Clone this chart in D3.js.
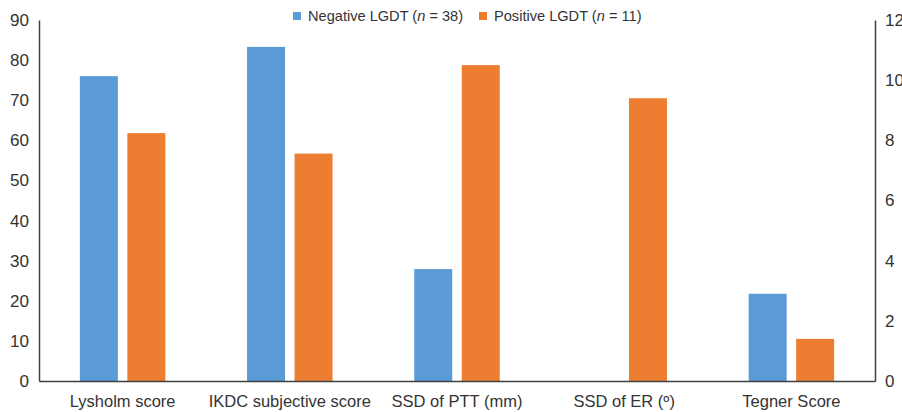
<!DOCTYPE html>
<html><head><meta charset="utf-8">
<script src="https://cdn.jsdelivr.net/npm/d3@7"></script>
<style>body{margin:0;background:#fff}svg{display:block}text{font-family:"Liberation Sans",Arial,sans-serif;fill:#333}</style>
</head><body>
<svg id="c" width="902" height="412"></svg>
<script>
const categories = ["Lysholm score","IKDC subjective score","SSD of PTT (mm)","SSD of ER (º)","Tegner Score"];
const seriesNames = ["Negative LGDT","Positive LGDT"];
const seriesN = [38, 11];
// axis each category is plotted against
const categoryAxis = ["left","left","right","right","right"];
const negativeValues = [76.0, 83.3, 3.72, null, 2.9];
const positiveValues = [61.8, 56.7, 10.5, 9.4, 1.4];
const leftTicks = [0,10,20,30,40,50,60,70,80,90];
const rightTicks = [0,2,4,6,8,10,12];
const colors = ["#5b9bd5","#ed7d31"];

const svg = d3.select("#c");
const m = {l:39, r:875, t:20, b:381};
const x = d3.scaleBand().domain(categories).range([m.l, m.r]).paddingInner(0).paddingOuter(0);
const xs = d3.scaleBand().domain([0,1]).range([0, x.bandwidth()]).paddingInner(0.2).paddingOuter(0.86);
const yL = d3.scaleLinear().domain([0,90]).range([m.b, m.t]);
const yR = d3.scaleLinear().domain([0,12]).range([m.b, m.t]);

const series = [negativeValues, positiveValues];
series.forEach((vals, si) => {
  svg.append("g").selectAll("rect").data(categories.map((c,i)=>({c, v:vals[i], ax:categoryAxis[i]})).filter(d=>d.v!=null))
    .join("rect")
    .attr("x", d => x(d.c) + xs(si))
    .attr("width", xs.bandwidth())
    .attr("y", d => (d.ax==="left"?yL:yR)(d.v))
    .attr("height", d => m.b - (d.ax==="left"?yL:yR)(d.v))
    .attr("fill", colors[si]);
});

const axisColor = "#404040";
const gl = svg.append("g").attr("transform",`translate(${m.l},0)`)
  .call(d3.axisLeft(yL).tickValues(leftTicks).tickSize(0).tickPadding(10));
const gr = svg.append("g").attr("transform",`translate(${m.r},0)`)
  .call(d3.axisRight(yR).tickValues(rightTicks).tickSize(0).tickPadding(10));
const gx = svg.append("g").attr("transform",`translate(0,${m.b})`)
  .call(d3.axisBottom(x).tickSize(0).tickPadding(14));
[gl,gr,gx].forEach(g=>{
  g.select(".domain").attr("stroke",axisColor).attr("stroke-width",1.5);
  g.selectAll("text").attr("font-family",'"Liberation Sans",Arial,sans-serif').attr("font-size",17).attr("fill","#333");
});
gx.selectAll("text").attr("font-size",16.5);

// legend
const legend = svg.append("g").attr("transform","translate(293,10)");
let lx = 0;
seriesNames.forEach((name, i) => {
  const g = legend.append("g").attr("transform",`translate(${lx},0)`);
  g.append("rect").attr("x",0).attr("y",2).attr("width",8).attr("height",8).attr("fill",colors[i]);
  const t = g.append("text").attr("x",15).attr("y",11).attr("font-size",14.6);
  t.append("tspan").text(name + " (");
  t.append("tspan").attr("font-style","italic").text("n");
  t.append("tspan").text(" = " + seriesN[i] + ")");
  lx += 186;
});
</script>
</body></html>
